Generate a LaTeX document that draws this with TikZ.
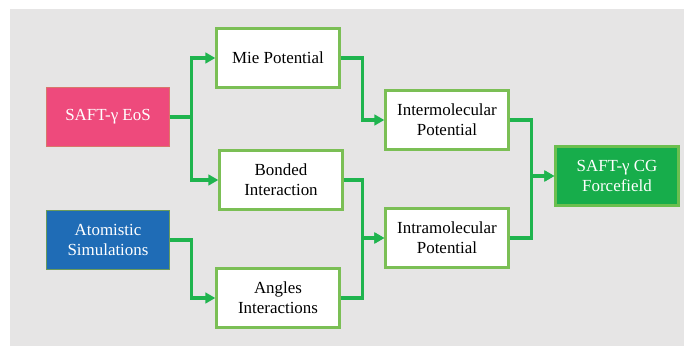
\documentclass[tikz,border=0pt]{standalone}
\usepackage{fontspec}
\setmainfont{Liberation Serif}
\usetikzlibrary{arrows.meta}
\definecolor{bggray}{HTML}{E6E5E5}
\definecolor{boxgreen}{HTML}{7BBF55}
\definecolor{arrgreen}{HTML}{1FB44E}
\definecolor{pinkfill}{HTML}{EE4A7C}
\definecolor{pinkedge}{HTML}{D8776A}
\definecolor{bluefill}{HTML}{1F6CB6}
\definecolor{blueedge}{HTML}{6A9A5A}
\definecolor{cgfill}{HTML}{17AD4B}
\definecolor{cgedge}{HTML}{6CBF4F}
\begin{document}
\begin{tikzpicture}[x=0.75pt,y=-0.75pt,
  base/.style={rectangle, minimum width=92pt, minimum height=44pt, inner sep=0pt,
    align=center, font=\fontsize{12.7}{15}\selectfont},
  wbox/.style={base, draw=boxgreen, fill=white, line width=2pt, text=black},
  pinkbox/.style={base, draw=pinkedge, fill=pinkfill, line width=0.8pt, text=white},
  bluebox/.style={base, draw=blueedge, fill=bluefill, line width=0.8pt, text=white},
  cgbox/.style={base, draw=cgedge, fill=cgfill, line width=2pt, text=white},
  arr/.style={draw=arrgreen, line width=2.3pt, -{Triangle[length=7.5pt,width=8pt]}}
]
\useasboundingbox (0,0) rectangle (684,346);
\fill[bggray] (10,9) rectangle (684,346);

\node[pinkbox] (eos) at (108,117) {SAFT-γ EoS};
\node[bluebox] (atom) at (108,240) {Atomistic\\Simulations};
\node[wbox] (mie) at (278,58) {Mie Potential};
\node[wbox] (bond) at (281,180) {Bonded\\Interaction};
\node[wbox] (ang) at (278,298) {Angles\\Interactions};
\node[wbox] (inter) at (447,120) {Intermolecular\\Potential};
\node[wbox] (intra) at (447,238) {Intramolecular\\Potential};
\node[cgbox] (cg) at (617,176) {SAFT-γ CG\\Forcefield};

\draw[arr] (eos.east) -- ++(22,0) |- (mie.west);
\draw[arr] (eos.east) -- ++(22,0) |- (bond.west);
\draw[arr] (atom.east) -- ++(22,0) |- (ang.west);
\draw[arr] (mie.east) -- ++(22,0) |- (inter.west);
\draw[arr] (bond.east) -- ++(19,0) |- (intra.west);
\draw[arr] (ang.east) -- ++(22,0) |- (intra.west);
\draw[arr] (inter.east) -- ++(22,0) |- (cg.west);
\draw[arr] (intra.east) -- ++(22,0) |- (cg.west);
\end{tikzpicture}
\end{document}
